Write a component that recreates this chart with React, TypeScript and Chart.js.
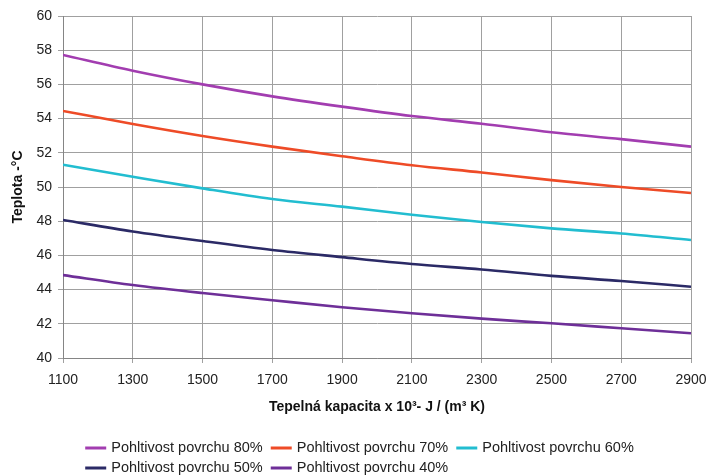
import React, { useEffect, useRef } from "react";
import { Chart, registerables } from "chart.js";

Chart.register(...registerables);

const xValues = [1100, 1300, 1500, 1700, 1900, 2100, 2300, 2500, 2700, 2900];
const seriesLabels = [
  "Pohltivost povrchu 80%",
  "Pohltivost povrchu 70%",
  "Pohltivost povrchu 60%",
  "Pohltivost povrchu 50%",
  "Pohltivost povrchu 40%",
];
const s80 = [57.72, 56.8, 56.0, 55.3, 54.7, 54.15, 53.7, 53.2, 52.8, 52.36];
const s70 = [54.45, 53.68, 52.98, 52.36, 51.8, 51.27, 50.85, 50.4, 50.0, 49.65];
const s60 = [51.3, 50.6, 49.92, 49.3, 48.85, 48.38, 47.95, 47.58, 47.28, 46.9];
const s50 = [48.07, 47.4, 46.84, 46.32, 45.9, 45.5, 45.18, 44.8, 44.5, 44.17];
const s40 = [44.85, 44.27, 43.8, 43.38, 42.97, 42.62, 42.3, 42.03, 41.74, 41.45];
const seriesColors = ["#A23DB0", "#EE4B27", "#22BDD0", "#2B2A66", "#6E2F98"];
const xTitle = "Tepelná kapacita x 10³- J / (m³ K)";
const yTitle = "Teplota -°C";

const FONT = "'Liberation Sans', Arial, sans-serif";

const legendPlugin = {
  id: "customLegend",
  afterDraw(chart: any) {
    const ctx = chart.ctx;
    const ds = chart.data.datasets;
    ctx.save();
    ctx.font = `14.5px ${FONT}`;
    ctx.textBaseline = "middle";
    ctx.textAlign = "left";
    const lineLen = 21;
    const gapText = 5;
    const gapItem = 8;
    const rows = [[0, 1, 2], [3, 4]];
    const rowY = [448, 468];
    const widths = ds.map((d: any) => ctx.measureText(d.label).width);
    const row1W = rows[0].reduce((a, i) => a + lineLen + gapText + widths[i], 0) + gapItem * (rows[0].length - 1);
    const startX = (chart.width - row1W) / 2 + 5;
    rows.forEach((row, ri) => {
      let x = startX;
      const y = rowY[ri];
      row.forEach((i) => {
        ctx.strokeStyle = ds[i].borderColor;
        ctx.lineWidth = 3;
        ctx.beginPath();
        ctx.moveTo(x, y);
        ctx.lineTo(x + lineLen, y);
        ctx.stroke();
        x += lineLen + gapText;
        ctx.fillStyle = "#222";
        ctx.fillText(ds[i].label, x, y);
        x += widths[i] + gapItem;
      });
    });
    ctx.restore();
  },
};

export default function App() {
  const ref = useRef<HTMLCanvasElement | null>(null);
  useEffect(() => {
    document.body.style.margin = "0";
    const canvas = ref.current!;
    const all = [s80, s70, s60, s50, s40];
    const chart = new Chart(canvas, {
      type: "line",
      data: {
        datasets: all.map((arr, i) => ({
          label: seriesLabels[i],
          data: arr.map((v, j) => ({ x: xValues[j], y: v })),
          borderColor: seriesColors[i],
          backgroundColor: seriesColors[i],
          borderWidth: 2.6,
          pointRadius: 0,
          cubicInterpolationMode: "monotone" as const,
          fill: false,
        })),
      },
      options: {
        responsive: false,
        animation: false,
        layout: { padding: { top: 16, right: 18, bottom: 56, left: 0 } },
        plugins: { legend: { display: false }, tooltip: { enabled: false } },
        scales: {
          x: {
            type: "linear",
            min: 1100,
            max: 2900,
            afterFit: (s: any) => {
              s.height = 62;
              s.paddingRight = 0;
              s.paddingLeft = 0;
            },
            ticks: {
              stepSize: 200,
              color: "#222",
              padding: 9,
              font: { family: FONT, size: 14 },
              maxRotation: 0,
              callback: (v: any) => String(v),
            },
            grid: { color: "#a0a0a0", tickLength: 5, lineWidth: 1 },
            border: { color: "#858585" },
            title: {
              display: true,
              text: xTitle,
              color: "#111",
              font: { family: FONT, size: 14, weight: "bold" },
              padding: { top: 0, bottom: 4 },
            },
          },
          y: {
            min: 40,
            max: 60,
            afterFit: (s: any) => {
              s.width = 63;
              s.paddingTop = 0;
              s.paddingBottom = 0;
            },
            ticks: {
              stepSize: 2,
              color: "#222",
              padding: 6,
              font: { family: FONT, size: 14 },
            },
            grid: { color: "#a0a0a0", tickLength: 5, lineWidth: 1 },
            border: { color: "#858585" },
            title: {
              display: true,
              text: yTitle,
              color: "#111",
              font: { family: FONT, size: 14, weight: "bold" },
              padding: { top: 10, bottom: 0 },
            },
          },
        },
      },
      plugins: [legendPlugin],
    });
    return () => chart.destroy();
  }, []);
  return (
    <div style={{ width: 709, height: 476, background: "#fff" }}>
      <canvas ref={ref} width={709} height={476} style={{ display: "block" }} />
    </div>
  );
}
